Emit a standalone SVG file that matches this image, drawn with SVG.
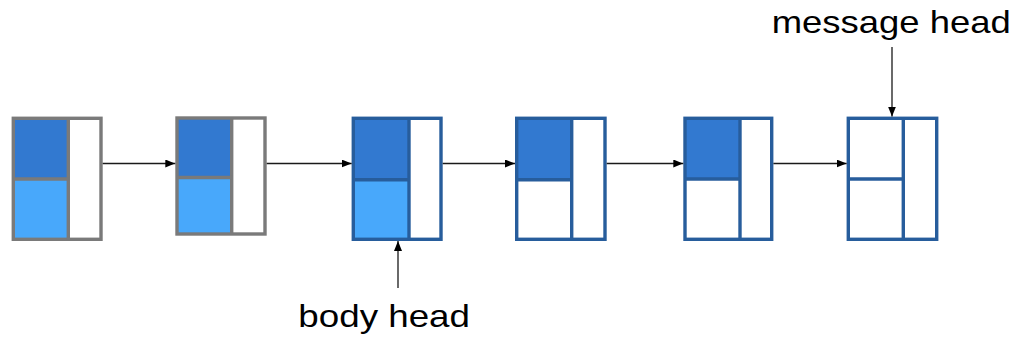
<svg xmlns="http://www.w3.org/2000/svg" width="1020" height="341" viewBox="0 0 1020 341">
<style>
.gray{fill:none;stroke:#7a7a7a;stroke-width:3.4}
.blue{fill:none;stroke:#275d9c;stroke-width:3.4}
.dark{fill:#3279d0}
.light{fill:#48a8fb}
.white{fill:#ffffff}
.conn{fill:none;stroke:#1a1a1a;stroke-width:1.3;marker-end:url(#ah)}
.lbl{font-family:"Liberation Sans",Arial,sans-serif;font-size:32px;fill:#000}
</style>
<defs>
<marker id="ah" markerUnits="userSpaceOnUse" markerWidth="10" markerHeight="8" refX="10" refY="4" orient="auto">
<path d="M0,0 L10,4 L0,8 z" fill="#000"/>
</marker>
</defs>
<rect width="1020" height="341" fill="#fff"/>

<g id="node1">
<rect class="dark" x="13.3" y="118.3" width="55" height="60.7"/>
<rect class="light" x="13.3" y="179" width="55" height="60.3"/>
<rect class="gray" x="13.3" y="118.3" width="87.7" height="121"/>
<line class="gray" x1="68.3" y1="118.3" x2="68.3" y2="239.3"/>
<line class="gray" x1="13.3" y1="179" x2="68.3" y2="179"/>
</g>

<g id="node2">
<rect class="dark" x="177" y="118" width="54.7" height="59.5"/>
<rect class="light" x="177" y="177.5" width="54.7" height="56.5"/>
<rect class="gray" x="177" y="118" width="88" height="116"/>
<line class="gray" x1="231.7" y1="118" x2="231.7" y2="234"/>
<line class="gray" x1="177" y1="177.5" x2="231.7" y2="177.5"/>
</g>

<g id="node3">
<rect class="dark" x="353.3" y="118.3" width="55.7" height="61.4"/>
<rect class="light" x="353.3" y="179.7" width="55.7" height="59.6"/>
<rect class="blue" x="353.3" y="118.3" width="87.7" height="121"/>
<line class="blue" x1="409" y1="118.3" x2="409" y2="239.3"/>
<line class="blue" x1="353.3" y1="179.7" x2="409" y2="179.7"/>
</g>

<g id="node4">
<rect class="dark" x="516.7" y="118.3" width="55" height="61.4"/>
<rect class="blue" x="516.7" y="118.3" width="88.3" height="121"/>
<line class="blue" x1="571.7" y1="118.3" x2="571.7" y2="239.3"/>
<line class="blue" x1="516.7" y1="179.7" x2="571.7" y2="179.7"/>
</g>

<g id="node5">
<rect class="dark" x="685" y="118.3" width="55" height="60.7"/>
<rect class="blue" x="685" y="118.3" width="86.7" height="121"/>
<line class="blue" x1="740" y1="118.3" x2="740" y2="239.3"/>
<line class="blue" x1="685" y1="179" x2="740" y2="179"/>
</g>

<g id="node6">
<rect class="blue" x="848.3" y="118.3" width="88.4" height="121"/>
<line class="blue" x1="903.3" y1="118.3" x2="903.3" y2="239.3"/>
<line class="blue" x1="848.3" y1="179" x2="903.3" y2="179"/>
</g>

<g id="connectors">
<line class="conn" x1="102.7" y1="163.5" x2="175.3" y2="163.5"/>
<line class="conn" x1="266.7" y1="163.5" x2="351.6" y2="163.5"/>
<line class="conn" x1="442.7" y1="163.5" x2="515" y2="163.5"/>
<line class="conn" x1="606.7" y1="163.5" x2="683.3" y2="163.5"/>
<line class="conn" x1="773.4" y1="163.5" x2="846.6" y2="163.5"/>
<line class="conn" x1="892" y1="47" x2="892" y2="116.6"/>
<line class="conn" x1="398" y1="288" x2="398" y2="241"/>
</g>

<g id="labels">
<text class="lbl" x="771.7" y="33.3" textLength="239" lengthAdjust="spacingAndGlyphs">message head</text>
<text class="lbl" x="298.3" y="327.3" textLength="171.7" lengthAdjust="spacingAndGlyphs">body head</text>
</g>
</svg>
